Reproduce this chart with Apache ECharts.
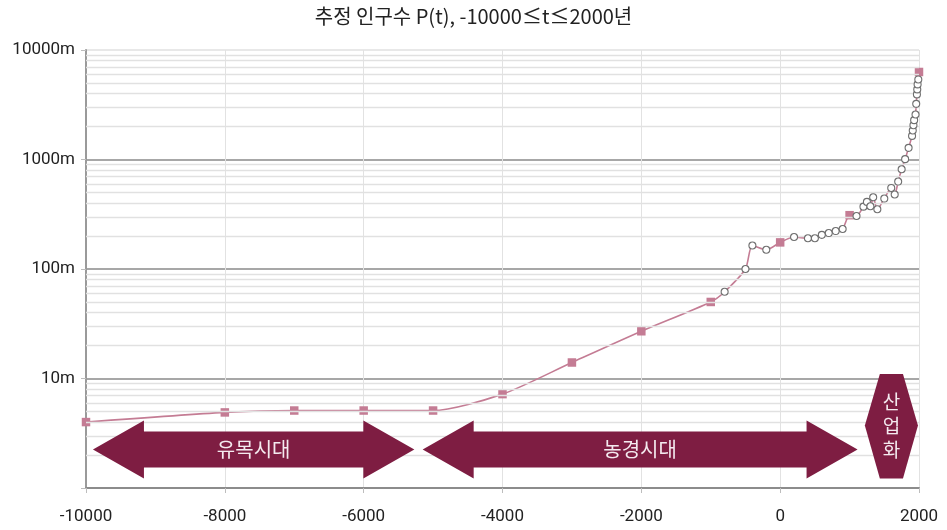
<!DOCTYPE html>
<html>
<head>
<meta charset="utf-8">
<script src="https://cdn.jsdelivr.net/npm/echarts@6/dist/echarts.min.js"></script>
<style>
  html, body { margin: 0; padding: 0; background: #fff; }
  #chart { width: 947px; height: 530px; }
</style>
</head>
<body>
<div id="chart"></div>
<script>
// Estimated world population (millions), log scale
const squareYears  = [-10000, -8000, -7000, -6000, -5000, -4000, -3000, -2000, -1000, 0, 1000, 2000];
const squareValues = [4, 4.9, 5.1, 5.1, 5.1, 7.2, 14, 27, 50, 175, 310, 6300];

const circleYears  = [-800, -500, -400, -200, 200, 400, 500, 600, 700, 800, 900,
                      1100, 1200, 1250, 1300, 1340, 1400, 1500, 1600, 1650, 1700,
                      1750, 1800, 1850, 1900, 1910, 1920, 1930, 1950, 1960, 1970,
                      1975, 1980, 1990];
const circleValues = [62, 100, 164, 150, 196, 191, 191, 205, 213, 222, 232,
                      305, 371, 410, 374, 452, 351, 440, 550, 479, 629,
                      815, 1007, 1277, 1643, 1840, 2057, 2287, 2578, 3223, 3930,
                      4367, 4850, 5385];

const yTickValues = [1, 10, 100, 1000, 10000];
const xTickLabels = ['-10000', '-8000', '-6000', '-4000', '-2000', '0', '2000'];

// Eras drawn as labelled arrows under the curve
const eraLabels = ['유목시대', '농경시대', '산업화'];
const eraFrom   = [-9900, -5150, 1220];
const eraTo     = [-5270, 1115, 1985];

const squarePts = squareYears.map((x, i) => [x, squareValues[i]]);
const circlePts = circleYears.map((x, i) => [x, circleValues[i]]);
const linePts = squarePts.concat(circlePts).sort((a, b) => a[0] - b[0]);

// minor log grid lines at 2..9 of each decade
const minorLines = [];
for (let d = 1; d < 10000; d *= 10) {
  for (let k = 2; k <= 9; k++) minorLines.push({ yAxis: d * k });
}

const LINE = '#c47c94';
const ERA = '#7e1d42';
const FONT = 'Roboto, "Noto Sans CJK KR", sans-serif';

const chart = echarts.init(document.getElementById('chart'));
chart.setOption({
  animation: false,
  title: {
    text: '추정 인구수 P(t), -10000≤t≤2000년',
    left: 'center',
    top: 1,
    textStyle: { fontFamily: '"Noto Sans CJK KR", sans-serif', fontSize: 20, fontWeight: 'normal', color: '#222' }
  },
  grid: { left: 86, right: 28, top: 50, bottom: 42 },
  xAxis: {
    type: 'value',
    min: -10000, max: 2000, interval: 2000,
    axisLine: { show: true, onZero: false, lineStyle: { color: '#8c8c8c', width: 2 } },
    axisTick: { show: true, length: 5, lineStyle: { color: '#bdbdbd' } },
    axisLabel: {
      margin: 20, fontSize: 17, fontFamily: FONT, color: '#222',
      formatter: (v) => xTickLabels[Math.round((v + 10000) / 2000)]
    },
    splitLine: { show: true, lineStyle: { color: '#e2e2e2', width: 1 } }
  },
  yAxis: {
    type: 'log', logBase: 10, min: yTickValues[0], max: yTickValues[yTickValues.length - 1],
    axisLine: { show: true, onZero: false, lineStyle: { color: '#9a9a9a', width: 2 } },
    axisTick: { show: true, length: 5, lineStyle: { color: '#bdbdbd' } },
    axisLabel: {
      margin: 11, fontSize: 17, fontFamily: FONT, color: '#222',
      formatter: (v) => (v === 1 ? '' : v + 'm')
    },
    splitLine: { show: true, lineStyle: { color: ['#8a8a8a', '#8a8a8a', '#8a8a8a', '#8a8a8a', '#e0e0e0'], width: 1.5 } }
  },
  series: [
    {
      type: 'line', data: [], z: 1, silent: true, symbol: 'none',
      markLine: {
        silent: true, symbol: 'none', animation: false,
        label: { show: false },
        lineStyle: { color: '#e1e1e1', width: 1.3, type: 'solid' },
        data: minorLines
      }
    },
    {
      type: 'line', data: linePts, z: 3,
      smooth: 0.25,
      symbol: 'none',
      lineStyle: { color: LINE, width: 1.6 }
    },
    {
      type: 'scatter', data: squarePts, z: 4,
      symbol: 'rect', symbolSize: 8.5,
      itemStyle: { color: LINE, opacity: 1 }
    },
    {
      type: 'scatter', data: circlePts, z: 5,
      symbol: 'circle', symbolSize: 7,
      itemStyle: { color: '#fff', borderColor: '#6f6f6f', borderWidth: 1.1, opacity: 1 }
    }
  ]
});

// era arrows, positioned from the x axis scale
function px(year) { return chart.convertToPixel({ xAxisIndex: 0 }, year); }
const cy = 449.5, headH = 29, shaftH = 18, headL = 51;
const graphics = [];
for (let i = 0; i < 2; i++) {
  const a = px(eraFrom[i]), b = px(eraTo[i]);
  graphics.push({
    type: 'polygon', z: 10,
    shape: { points: [
      [a, cy], [a + headL, cy - headH], [a + headL, cy - shaftH], [b - headL, cy - shaftH],
      [b - headL, cy - headH], [b, cy], [b - headL, cy + headH], [b - headL, cy + shaftH],
      [a + headL, cy + shaftH], [a + headL, cy + headH]
    ] },
    style: { fill: ERA }
  });
  graphics.push({
    type: 'text', z: 11, x: (a + b) / 2, y: cy,
    style: { text: eraLabels[i], fill: '#f4eaef', fontSize: 20, fontFamily: '"Noto Sans CJK KR", sans-serif',
             align: 'center', verticalAlign: 'middle' }
  });
}
{
  const a = px(eraFrom[2]), b = px(eraTo[2]);
  const inset = 15, top = 374, mid = 425.5, bot = 478.5;
  graphics.push({
    type: 'polygon', z: 10,
    shape: { points: [[a + inset, top], [b - inset, top], [b, mid], [b - inset, bot], [a + inset, bot], [a, mid]] },
    style: { fill: ERA }
  });
  graphics.push({
    type: 'text', z: 11, x: (a + b) / 2, y: mid,
    style: { text: eraLabels[2].split('').join('\n'), fill: '#f4eaef', fontSize: 19, lineHeight: 24,
             fontFamily: '"Noto Sans CJK KR", sans-serif', align: 'center', verticalAlign: 'middle' }
  });
}
chart.setOption({ graphic: graphics });
</script>
</body>
</html>
